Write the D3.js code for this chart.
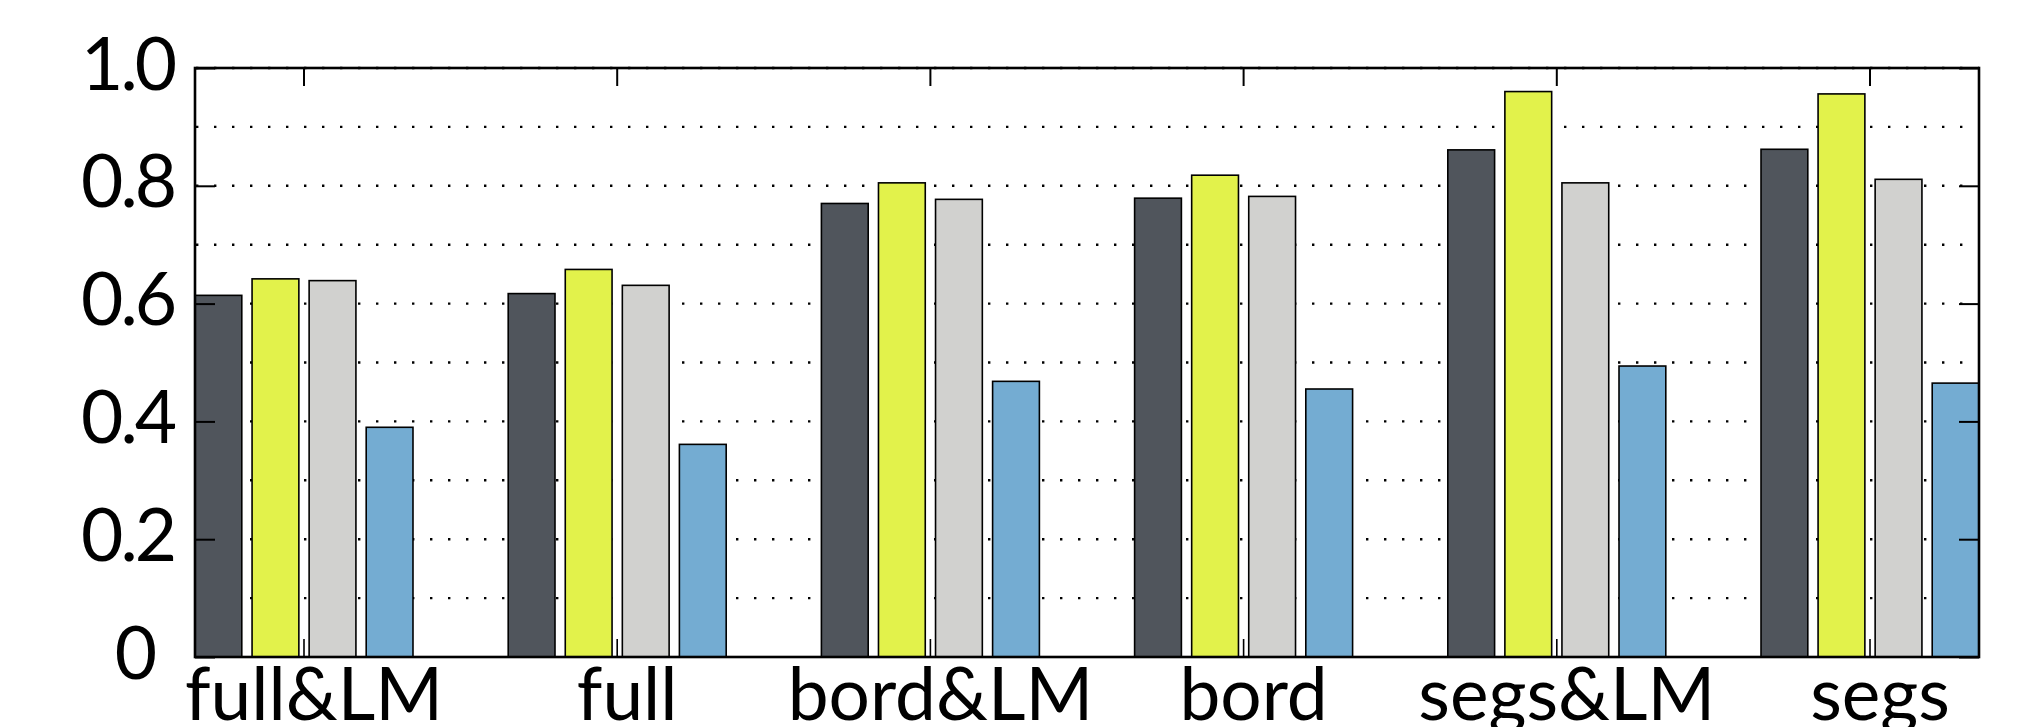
<!DOCTYPE html>
<html>
<head>
<meta charset="utf-8">
<script src="https://cdn.jsdelivr.net/npm/d3@7"></script>
<style>
  body { margin: 0; background: #fff; }
  text { font-family: Lato, "Open Sans", sans-serif; fill: #000; }
</style>
</head>
<body>
<div id="chart"></div>
<script>
// categories and series
var categories = ['full&LM', 'full', 'bord&LM', 'bord', 'segs&LM', 'segs']
var series = ['s1', 's2', 's3', 's4']
var seriesColors = ['#50555c', '#e2f24b', '#d1d1cf', '#74acd2']

// values per series, one entry per category
var s1 = [0.614, 0.617, 0.770, 0.779, 0.861, 0.862]
var s2 = [0.642, 0.658, 0.805, 0.818, 0.960, 0.956]
var s3 = [0.639, 0.631, 0.777, 0.782, 0.805, 0.811]
var s4 = [0.390, 0.361, 0.468, 0.455, 0.494, 0.465]

var yMajor = [0, 0.2, 0.4, 0.6, 0.8, 1.0]
var yGrid = [0.1, 0.2, 0.3, 0.4, 0.5, 0.6, 0.7, 0.8, 0.9, 1.0]

var width = 2039
var height = 727
var margin = {top: 68, right: 60, bottom: 70, left: 195}
var fontSize = 73

var values = [s1, s2, s3, s4]
var rows = categories.map(function(c, i) {
  return {cat: c, bars: series.map(function(s, j) { return {key: s, value: values[j][i], color: seriesColors[j]} })}
})

var svg = d3.select('#chart').append('svg').attr('width', width).attr('height', height)

var x0 = d3.scaleBand().domain(categories).range([margin.left, width - margin.right]).paddingInner(0.304).paddingOuter(0)
var x1 = d3.scaleBand().domain(series).range([0, x0.bandwidth()]).paddingInner(0.18).paddingOuter(0)
var y = d3.scaleLinear().domain([0, 1]).range([height - margin.bottom, margin.top])

var plotW = width - margin.right - margin.left

// dotted grid
svg.append('g').selectAll('line').data(yGrid).join('line')
  .attr('x1', margin.left).attr('x2', width - margin.right)
  .attr('y1', d => y(d)).attr('y2', d => y(d))
  .attr('stroke', '#000').attr('stroke-width', 2.4)
  .attr('stroke-dasharray', '2.4 15.6').attr('stroke-dashoffset', -1)

// bars
var groups = svg.append('g').selectAll('g').data(rows).join('g')
  .attr('transform', d => 'translate(' + x0(d.cat) + ',0)')

groups.selectAll('rect').data(d => d.bars).join('rect')
  .attr('x', d => x1(d.key))
  .attr('y', d => y(d.value))
  .attr('width', x1.bandwidth())
  .attr('height', d => y(0) - y(d.value))
  .attr('fill', d => d.color)
  .attr('stroke', '#000').attr('stroke-width', 1.6)

// left axis with labels, ticks pointing inward
var yAxis = svg.append('g').attr('transform', 'translate(' + margin.left + ',0)')
  .call(d3.axisLeft(y).tickValues(yMajor).tickSize(-20).tickPadding(21)
    .tickFormat(d => d === 0 ? '0' : d3.format('.1f')(d)))
yAxis.select('.domain').remove()
yAxis.selectAll('line').attr('stroke-width', 2)
yAxis.selectAll('text').attr('font-size', fontSize).attr('dy', '0.29em')
  .attr('letter-spacing', -3)
  .attr('dx', d => d === 0 ? -20 : 0)

// right axis, ticks only
var yAxisR = svg.append('g').attr('transform', 'translate(' + (width - margin.right) + ',0)')
  .call(d3.axisRight(y).tickValues(yMajor).tickSize(-20).tickFormat(''))
yAxisR.select('.domain').remove()
yAxisR.selectAll('line').attr('stroke-width', 2)

// top axis, ticks only
var xTop = svg.append('g').attr('transform', 'translate(0,' + margin.top + ')')
  .call(d3.axisTop(x0).tickSize(-18).tickFormat(''))
xTop.select('.domain').remove()
xTop.selectAll('line').attr('stroke-width', 2)

// bottom axis with category labels
var xBot = svg.append('g').attr('transform', 'translate(0,' + (height - margin.bottom) + ')')
  .call(d3.axisBottom(x0).tickSize(-18).tickPadding(0))
xBot.select('.domain').remove()
xBot.selectAll('line').attr('stroke-width', 1.6)
xBot.selectAll('text').attr('font-size', fontSize).attr('y', 63).attr('dy', 0).attr('dx', 10)

// frame
svg.append('rect')
  .attr('x', margin.left).attr('y', margin.top)
  .attr('width', plotW).attr('height', y(0) - y(1))
  .attr('fill', 'none').attr('stroke', '#000').attr('stroke-width', 2.6)
</script>
</body>
</html>
